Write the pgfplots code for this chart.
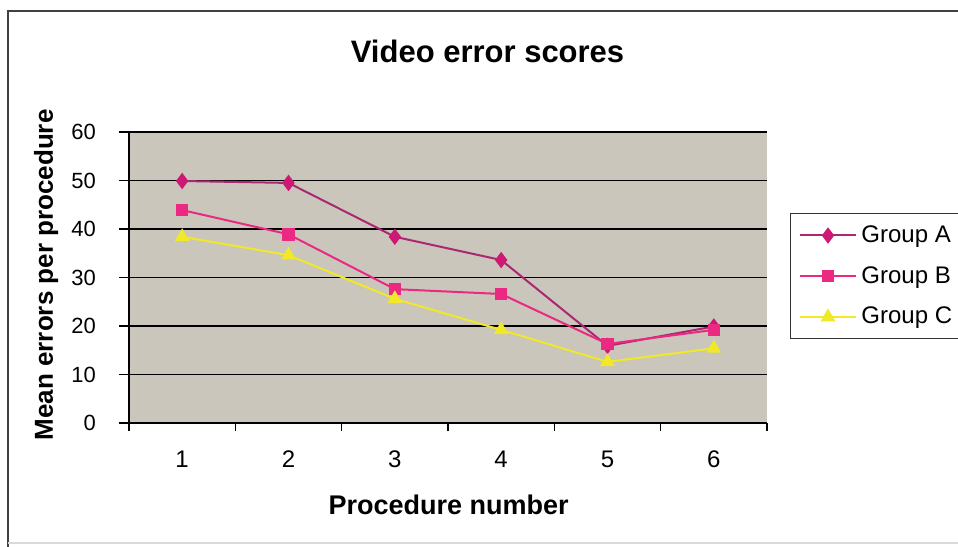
\documentclass[border=0pt]{standalone}
\usepackage{pgfplots}
\pgfplotsset{compat=1.18}
\usepackage{fontspec}
\setmainfont{Liberation Sans}
\definecolor{bgcol}{RGB}{202,198,188}
\definecolor{colA}{RGB}{205,25,115}
\definecolor{lineA}{RGB}{170,40,115}
\definecolor{colB}{RGB}{235,40,130}
\definecolor{colC}{RGB}{240,232,40}
\begin{document}
\begin{tikzpicture}
\useasboundingbox (0,0) rectangle (479pt,273pt);
\clip (0,0) rectangle (479pt,273pt);
\draw[line width=1pt, black!75] (4pt,-2pt) -- (4pt,267.5pt) -- (485pt,267.5pt);
\draw[line width=0.6pt, black!15] (4pt,1.5pt) -- (485pt,1.5pt);
\begin{axis}[
  at={(64.5pt,61.5pt)}, anchor=south west,
  width=319pt, height=145.5pt, scale only axis,
  xmin=0.5, xmax=6.5, ymin=0, ymax=60,
  axis x line*=bottom, axis y line*=left,
  axis line style={line width=0.8pt, black},
  axis background/.style={fill=bgcol},
  xtick={1,2,3,4,5,6},
  major x tick style={draw=none},
  minor xtick={0.5,1.5,2.5,3.5,4.5,5.5,6.5},
  minor x tick style={line width=0.7pt, black},
  minor tick length=4pt,
  ytick={0,10,20,30,40,50,60},
  major tick length=5pt,
  tick align=outside,
  y tick style={line width=0.7pt, black},
  ymajorgrids, major grid style={line width=0.9pt, black},
  /pgf/number format/assume math mode=true,
  yticklabel style={font=\fontsize{11}{13}\selectfont, xshift=-8pt},
  xticklabel style={font=\fontsize{12}{14}\selectfont, yshift=-5.5pt},
  every axis title shift=0pt,
  title={\textbf{Video error scores}},
  title style={at={(0.562,1.278)}, anchor=center, yshift=0pt, font=\fontsize{15.5}{18}\selectfont},
  xlabel={\textbf{Procedure number}},
  xlabel style={at={(0.501,-0.282)}, anchor=center, font=\fontsize{13.5}{16}\selectfont},
  ylabel={\textbf{Mean errors per procedure}},
  ylabel style={at={(-0.130,0.509)}, anchor=center, font=\fontsize{13}{15}\selectfont},
  legend style={at={(1.036,0.7216)}, anchor=north west, draw=black!80, line width=0.6pt,
    font=\fontsize{12}{14}\selectfont, row sep=6.5pt, inner ysep=4pt, inner xsep=4pt},
  legend cell align=left,
  legend image code/.code={\draw[mark repeat=2,mark phase=2,#1] plot coordinates {(0cm,0cm)(0.5cm,0cm)(1cm,0cm)};},
]
\addplot[lineA, line width=1pt, mark=diamond*, mark size=3.3pt, mark options={fill=colA, draw=colA}]
  coordinates {(1,49.9)(2,49.5)(3,38.4)(4,33.6)(5,15.9)(6,19.9)};
\addlegendentry{Group A\hspace{8pt}}
\addplot[colB, line width=1pt, mark=square*, mark size=2.6pt, mark options={fill=colB, draw=colB}]
  coordinates {(1,43.9)(2,38.9)(3,27.6)(4,26.6)(5,16.3)(6,19.2)};
\addlegendentry{Group B\hspace{8pt}}
\addplot[colC, line width=1pt, mark=triangle*, mark size=3.3pt, mark options={fill=colC, draw=colC}]
  coordinates {(1,38.4)(2,34.6)(3,25.6)(4,19.2)(5,12.6)(6,15.4)};
\addlegendentry{Group C\hspace{8pt}}
\end{axis}
\end{tikzpicture}
\end{document}
